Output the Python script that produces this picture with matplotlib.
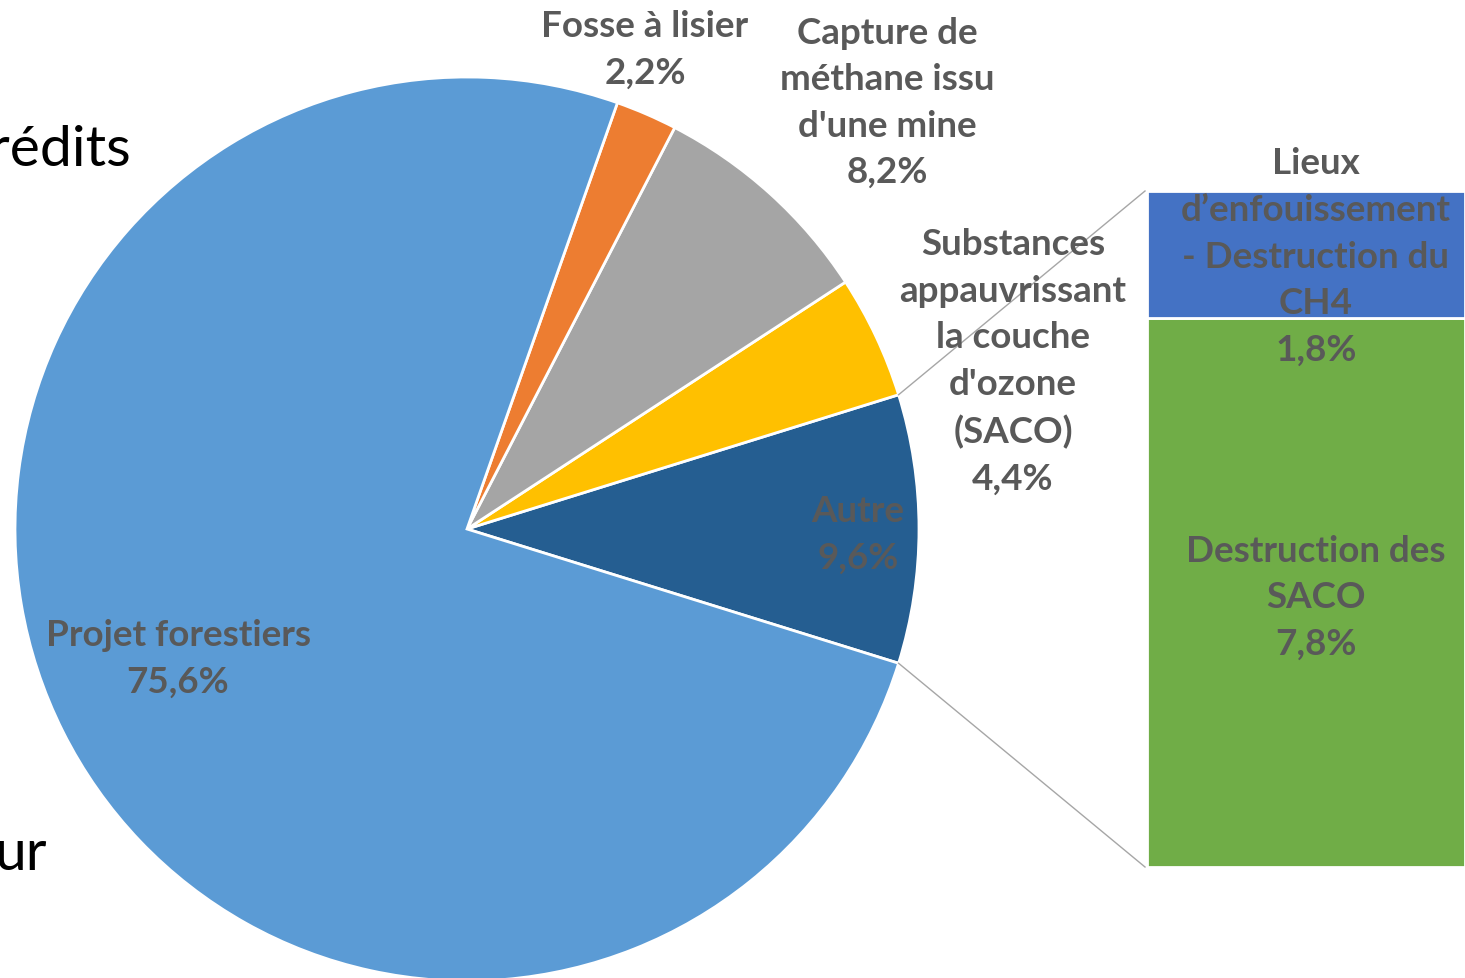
import numpy as np
import matplotlib.pyplot as plt

# parts du pie (ordre anti-horaire depuis "Autre")
labels = ['Autre', 'Substances\nappauvrissant\nla couche\nd\'ozone\n(SACO)',
          'Capture de\nméthane issu\nd\'une mine', 'Fosse à lisier', 'Projet forestiers']
values = [9.6, 4.4, 8.2, 2.2, 75.6]
colors = ['#255E91', '#FFC000', '#A5A5A5', '#ED7D31', '#5B9BD5']

# détail de "Autre"
bar_labels = ['Destruction des\nSACO', 'Lieux\nd\u2019enfouissement\n- Destruction du\nCH4']
bar_values = [7.8, 1.8]
bar_colors = ['#70AD47', '#4472C4']

txt = '#595959'
plt.rcParams['font.family'] = ['Lato', 'DejaVu Sans']

fig = plt.figure(figsize=(14.65, 9.79), dpi=100)
ax = fig.add_axes([0, 0, 1, 1])

cx, cy, r = 467, 449, 452
start = -values[0] / 100 * 360 / 2
ax.pie(values, colors=colors, center=(cx, cy), radius=r, startangle=start,
       counterclock=True, wedgeprops=dict(edgecolor='white', linewidth=2), frame=True)
ax.set_xlim(0, 1465)
ax.set_ylim(0, 979)
ax.set_aspect('equal')
ax.axis('off')

# barre de détail
scale = 676 / sum(bar_values)
bottom = 111
for v, c in zip(bar_values, bar_colors):
    ax.bar(1306, v * scale, width=318, bottom=bottom, color=c,
           edgecolor='white', linewidth=2)
    bottom += v * scale

# lignes de connexion
a = np.deg2rad(start)
ax.plot([cx + r * np.cos(a), 1145], [cy + r * np.sin(a), 111], color='#A6A6A6', lw=1)
ax.plot([cx + r * np.cos(-a), 1145], [cy + r * np.sin(-a), 787], color='#A6A6A6', lw=1)

fs = 26.5
def lab(x, y, s):
    ax.text(x, 979 - y, s, ha='center', va='center', fontsize=fs, fontweight='bold',
            color=txt, linespacing=1.5)

lab(645, 50, 'Fosse à lisier\n2,2%')
lab(887, 103, 'Capture de\nméthane issu\nd\'une mine\n8,2%')
lab(1013, 362, 'Substances\nappauvrissant\nla couche\nd\'ozone\n(SACO)\n4,4%')
lab(858, 535, 'Autre\n9,6%')
lab(178, 659, 'Projet forestiers\n75,6%')
lab(1316, 257, 'Lieux\nd\u2019enfouissement\n- Destruction du\nCH4\n1,8%')
lab(1316, 598, 'Destruction des\nSACO\n7,8%')

# texte de la diapositive coupé à gauche (comme dans l'original)
ax.text(131, 979 - 150, 'rédits', ha='right', va='center', fontsize=41, color='black')
ax.text(47, 979 - 855, 'ur', ha='right', va='center', fontsize=41, color='black')

fig.savefig('out.png', dpi=100)
